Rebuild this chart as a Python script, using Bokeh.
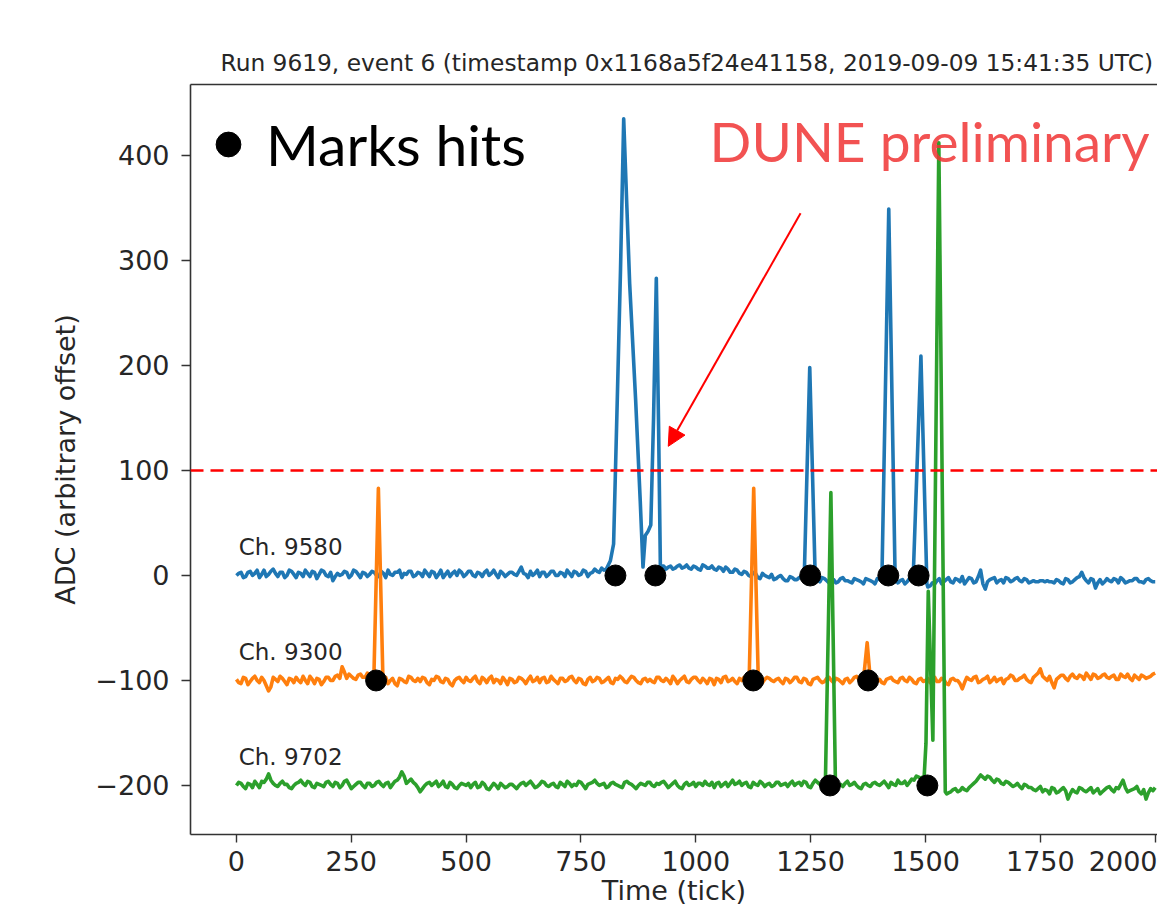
from bokeh.plotting import figure
from bokeh.models import (Range1d, FixedTicker, LinearAxis, Label, Arrow, NormalHead,
                          Legend, LegendItem, Span)
from bokeh.core.properties import value
from bokeh.embed import file_html
from bokeh.resources import INLINE

# ---------------- data ----------------
TITLE = "Run 9619, event 6 (timestamp 0x1168a5f24e41158, 2019-09-09 15:41:35 UTC)"
channel_names = ["Ch. 9580", "Ch. 9300", "Ch. 9702"]
channel_offsets = [0, -100, -200]
channel_colors = ["#1f77b4", "#ff7f0e", "#2ca02c"]
base_step = 10  # baseline samples at ticks 0,10,...,2000 and 5,15,...,1995

# ADC deviation from each channel's baseline, ticks 0,10,...,2000
blue_base = [0, 3, -1, 4, 2, -2, 5, 1, 6, -1,
             3, 0, 4, -2, 2, 5, -1, 3, 1, 4,
             -1, -5, 2, 1, 3, 0, 4, -2, 2, 1,
             3, -1, 2, 5, 0, 3, -2, 1, 4, 0,
             2, 5, -1, 3, 1, -2, 4, 2, 0, 3,
             1, 4, -1, 2, 3, 0, 5, -2, 2, 1,
             3, 0, 8, 1, 4, 2, -1, 3, 1, 4,
             0, 2, 5, -1, 3, 1, 4, 2, 6, 3,
             5, 7, 4, 9, 10, 8, 6, 9, 7, 8,
             6, 8, 7, 9, 8, 6, 9, 7, 10, 6,
             8, 5, 9, 7, 6, 8, 4, 6, 3, 5,
             1, 3, -1, 2, -3, 0, -2, -4, -1, -3,
             -5, -2, -4, -1, -3, -5, -3, -6, -3, -7,
             -4, -6, -2, -5, -7, -4, -6, -3, -5, -8,
             -4, -6, -3, -5, -7, -4, -6, -5, -3, -6,
             -8, -10, -8, -3, -6, -2, -7, -4, -1, -5,
             -3, -6, 5, -13, -4, -2, -5, -7, -3, -5,
             -2, -6, -4, -6, -6, -5, -6, -6, -7, -5,
             -8, -4, -6, -2, 3, -5, -3, -12, -4, -6,
             -5, -3, -7, -4, -6, -5, -3, -6, -4, -5,
             -6]
# ticks 5,15,...,1995
blue_mid = [2, -2, 3, 0, 5, 1, -1, 4, 2, 3,
            -2, 5, 1, 3, -1, 2, 4, -3, 5, 0,
            3, -1, 0, 4, -2, 5, 1, 3, -1, 4,
            0, 4, -2, 1, 3, 5, 2, 4, -1, 3,
            -1, 2, 4, -2, 5, 1, -1, 4, 5, -1,
            4, 0, 3, -1, 5, 2, 1, 4, -1, 3,
            1, 4, 2, -2, 0, 5, 3, -1, 4, 0,
            3, -1, 2, 4, 0, 5, -1, 3, 4, 7,
            6, 8, 7, 10, 9, 7, 8, 6, 9, 7,
            9, 7, 10, 6, 9, 7, 10, 8, 7, 9,
            6, 10, 7, 9, 5, 7, 8, 3, 6, 2,
            4, 0, 3, -2, 2, -1, 1, -3, 0, -5,
            -1, -4, -2, -5, -2, -6, -4, -2, -5, -4,
            -7, -3, -5, -6, -3, -5, -8, -4, -6, -3,
            -6, -3, -7, -4, -5, -8, -3, -5, -7, -4,
            -11, -7, -5, -8, -4, -6, -3, -6, -8, -2,
            -7, -1, -8, -6, -3, -7, -4, -2, -6, -3,
            -5, -3, -7, -5, -6, -5, -5, -6, -4, -7,
            -3, -7, -4, -1, -2, -7, -4, -7, -8, -3,
            -6, -4, -2, -7, -5, -3, -6, -7, -3, -6]
orange_base = [1, -3, 2, -1, 4, -2, 0, -10, 3, -1,
               2, -4, 1, 3, -2, 0, 4, -3, 1, -1,
               3, 0, 5, 13, 2, 4, 1, 6, 3, 5,
               2, 0, 1, -3, 2, -5, 1, -2, 3, -1,
               -1, 2, -4, 0, 3, -2, 1, -5, 2, 0,
               3, -1, 4, -3, 1, 2, -2, 0, 3, -4,
               1, -1, 2, -3, 4, 0, -2, 3, -1, 1,
               -3, 2, 0, 4, -2, 1, -4, 3, 0, 2,
               -1, 3, -3, 1, 2, -2, 4, 0, -3, 2,
               1, -2, 3, -1, 0, 4, -3, 2, -1, 1,
               3, -2, 0, 2, -4, 1, 3, -1, 2, -3,
               0, 2, -2, 4, -1, 1, 2, -1, 2, -3,
               1, 0, 3, -2, 1, -4, 2, 0, -1, 3,
               -2, 1, -3, 2, 0, 4, -1, 1, -2, 2,
               1, -3, 2, 0, -2, 3, -1, 1, -3, 2,
               0, -2, 3, -1, 1, -4, 2, 0, -8, 3,
               0, 4, -1, 2, -2, 3, 1, -3, 2, 4,
               0, 3, 1, -2, 5, 11, 2, 4, -7, 3,
               5, 0, 6, 2, 4, 7, 1, 5, 3, 6,
               2, 5, 1, 4, 6, 0, 3, 5, 2, 4,
               7]
orange_mid = [-2, 3, -4, 2, 0, 3, -5, -6, 1, 4,
              -1, 2, -2, 0, 4, -3, 1, 2, -4, 3,
              0, 4, 2, 8, 6, 2, 5, 3, 7, 0,
              1, -2, 3, 0, -3, 2, -1, 4, 0, 2,
              3, -2, 1, 4, -1, 2, -3, 0, 3, -2,
              0, 2, -1, 3, -2, 4, 1, -3, 0, 2,
              -2, 3, 0, 1, -1, 3, 2, -2, 4, -1,
              2, -1, 3, 0, 2, -3, 1, -1, 3, -2,
              1, -2, 2, 4, -1, 1, 3, -2, 1, -1,
              -1, 3, 0, 2, -3, 1, 0, 4, -2, 3,
              0, 2, -3, 1, 2, -2, 4, 0, -1, 2,
              3, -1, 2, 0, -2, 3, 0, 1, -1, 2,
              -2, 3, -1, 2, -3, 1, 3, -2, 2, 0,
              2, -1, 1, -2, 3, 1, -3, 2, 0, -1,
              -2, 1, 3, -1, 2, 0, 3, -2, 1, -1,
              2, 0, -1, 2, -3, 1, 0, -3, -2, 1,
              3, -2, 1, 4, 0, -1, 2, 1, 5, 0,
              2, 5, -1, 3, 7, 4, 0, -2, 1, 5,
              2, 4, 3, 5, 1, 4, 6, 2, 5, 3,
              4, 1, 6, 3, 2, 5, 1, 4, 3, 6]
green_base = [0, 2, -3, 1, 4, -2, 3, 11, 2, -1,
              4, 1, -3, 2, 5, 0, 3, -2, 1, -1,
              4, -1, 2, 0, 5, -3, 1, 3, -2, 2,
              0, 4, -1, 3, 1, 5, 13, 2, 6, 1,
              -6, 0, 3, 2, -1, 4, -2, 1, -3, 2,
              0, -2, 3, -1, 1, -4, 2, -3, 0, -1,
              1, -3, 2, 0, 4, -2, 1, 3, -1, 2,
              -2, 1, 4, -1, 0, 3, -3, 2, 5, 0,
              2, -1, 3, 0, -2, 4, 1, -3, 2, 0,
              3, -1, 1, 4, -2, 2, 0, -3, 3, 1,
              -1, 2, 4, 0, -2, 3, 1, -1, 5, 2,
              0, 3, -2, 1, 4, -1, 2, 0, 3, 1,
              -1, 4, 2, 0, 3, -2, 5, 1, 2, 6,
              2, 0, -1, 4, 1, 0, -3, 2, -1, 3,
              0, 4, -2, 1, 5, 2, 0, 6, 9, 7,
              8, 4, 6, -5, -8, -7, -4, -6, -2, -5,
              0, 4, 10, 6, 8, 3, 5, 1, 3, -1,
              2, -3, 0, -2, -5, -1, -4, -8, -3, -6,
              -2, -13, -4, -7, -3, -6, -2, -5, -8, -4,
              -1, -6, -3, 5, -6, -4, -1, -8, -13, -3,
              -2]
green_mid = [3, -1, 2, -2, 1, 4, 6, 5, 0, 2,
             1, -2, 0, 3, 2, 4, -1, 2, 0, 3,
             1, 3, -2, 4, 1, -1, 3, 0, 2, -1,
             3, 1, 2, -2, 4, 8, 9, 4, 3, -2,
             -3, 2, 0, 4, 1, -1, 3, -2, 0, 1,
             2, 1, -2, 3, -3, -1, 0, 2, -2, 1,
             -1, 0, 3, 2, 1, -1, 4, 0, 1, -1,
             3, -1, 2, 1, 4, 0, 1, 3, 2, 1,
             -2, 2, 1, -1, 3, 2, -1, 0, 1, 3,
             0, 2, 3, 1, 0, 4, -2, 1, 0, 3,
             2, 0, 1, 3, 2, -1, 3, 2, 1, 4,
             2, -1, 3, 0, 2, 1, -1, 3, 0, 2,
             2, 0, 3, 4, -1, 2, 3, -1, 4, 3,
             3, 1, 2, 0, 3, -2, 1, 0, 2, 1,
             2, 1, 3, 0, 2, 4, 3, 5, 8, 10,
             6, 7, 3, -3, -7, -6, -3, -5, -4, -2,
             2, 7, 8, 9, 5, 6, 2, 4, 1, 0,
             -1, 1, -2, -4, -3, -6, -5, -2, -7, -4,
             -5, -8, -6, -2, -5, -4, -7, -3, -6, -2,
             -4, -2, 1, -2, -5, -3, -6, -4, -7, -5]

# pulses: sample ticks and ADC deviation from the channel baseline
blue_pulse_t = [[800, 805, 814, 821, 829, 836, 843, 850, 856, 869, 879, 885, 890, 896, 902, 908, 914, 919, 923, 926],
                [1236, 1248, 1260],
                [1405, 1420, 1434],
                [1473, 1490, 1503]]
blue_pulse_dev = [[5, 6, 14, 30, 167, 290, 435, 350, 278, 167, 71, 8, 38, 42, 48, 150, 283, 140, 3, 9],
                  [-2, 198, -4],
                  [-5, 349, -6],
                  [-4, 209, -8]]
orange_pulse_t = [[296, 299, 309, 319, 322], [1113, 1116, 1126, 1136, 1139], [1362, 1365, 1373, 1380, 1383]]
orange_pulse_dev = [[2, 0, 183, -1, 2], [1, -1, 183, 0, 2], [-1, 1, 36, 0, -2]]
green_pulse_t = [[1279, 1282, 1294, 1304, 1307], [1494, 1497, 1501, 1506, 1516, 1529, 1543, 1546]]
green_pulse_dev = [[1, 2, 279, 0, -1], [8, 8, 40, 185, 43, 612, -6, -8]]

# hits found by the hit finder
hit_tick = [825, 912, 1249, 1419, 1485, 304, 1125, 1375, 1292, 1504]
hit_adc = [0, 0, 0, 0, 0, -100, -100, -100, -200, -200]

threshold = 100
x_ticks = [0, 250, 500, 750, 1000, 1250, 1500, 1750, 2000]
y_ticks = [-200, -100, 0, 100, 200, 300, 400]

# annotation anchors (data units)
label_pos = (5, 27)              # channel name: tick, ADC above baseline
prelim_pos = (1030, 414)
arrow_from = (1228, 345)
arrow_to = (940, 123)


def assemble(base, mid, pulse_t, pulse_dev, offset):
    samples = [(i * base_step, d) for i, d in enumerate(base)]
    samples += [(i * base_step + base_step // 2, d) for i, d in enumerate(mid)]
    pts = [(t, d) for t, d in samples
           if not any(pt[0] <= t <= pt[-1] for pt in pulse_t)]
    for pt, pd in zip(pulse_t, pulse_dev):
        pts.extend(zip(pt, pd))
    pts.sort()
    return [q[0] for q in pts], [offset + q[1] for q in pts]


traces = [assemble(blue_base, blue_mid, blue_pulse_t, blue_pulse_dev, channel_offsets[0]),
          assemble(orange_base, orange_mid, orange_pulse_t, orange_pulse_dev, channel_offsets[1]),
          assemble(green_base, green_mid, green_pulse_t, green_pulse_dev, channel_offsets[2])]

# ---------------- figure ----------------
p = figure(width=1157, height=909, output_backend="svg", toolbar_location=None,
           x_range=Range1d(-100, 2005), y_range=Range1d(-246.7, 467.6),
           min_border_left=190, min_border_right=0, min_border_top=84, min_border_bottom=75)
p.grid.visible = False
p.outline_line_color = None
p.background_fill_color = "white"
p.border_fill_color = "white"

TXT = "#262626"
AX = "#333333"
for ax in (p.xaxis[0], p.yaxis[0]):
    ax.axis_line_color = AX
    ax.axis_line_width = 1.6
    ax.major_tick_line_color = AX
    ax.major_tick_line_width = 1.4
    ax.major_tick_in = 0
    ax.minor_tick_line_color = None
    ax.major_label_text_font = "DejaVu Sans"
    ax.major_label_text_font_size = "27px"
    ax.major_label_text_color = TXT
    ax.axis_label_text_font = "DejaVu Sans"
    ax.axis_label_text_font_size = "27px"
    ax.axis_label_text_font_style = "normal"
    ax.axis_label_text_color = TXT

p.xaxis.ticker = FixedTicker(ticks=x_ticks)
p.yaxis.ticker = FixedTicker(ticks=y_ticks)
p.xaxis.major_tick_out = 8
p.yaxis.major_tick_out = 9
p.xaxis.major_label_standoff = 8
p.yaxis.major_label_standoff = 12
p.yaxis.major_label_overrides = {t: ("\u2212" + str(-t) if t < 0 else str(t)) for t in y_ticks}
p.yaxis.axis_label = "ADC (arbitrary offset)"
p.yaxis.axis_label_standoff = 11
p.xaxis.axis_label = "Time (tick)"
p.xaxis.axis_label_standoff = 1

# top spine
top = LinearAxis(ticker=FixedTicker(ticks=[]), axis_line_color=AX, axis_line_width=1.6,
                 major_tick_line_color=None, minor_tick_line_color=None,
                 major_label_text_font_size="0px")
p.add_layout(top, "above")

p.title.text = TITLE
p.title.align = "left"
p.title.offset = 30
p.title.text_font = "DejaVu Sans"
p.title.text_font_size = "23.3px"
p.title.text_font_style = "normal"
p.title.text_color = TXT
p.title.standoff = 18

# threshold
p.add_layout(Span(location=threshold, dimension="width", line_color="red",
                  line_width=2.5, line_dash="13 7"))

# traces
for (tx, ty), col in zip(traces, channel_colors):
    p.line(tx, ty, line_color=col, line_width=3.6, line_join="round")

# channel names
p.text(x=[label_pos[0]] * 3, y=[o + label_pos[1] for o in channel_offsets], text=channel_names,
       text_font=value("DejaVu Sans"), text_font_size="23px", text_color=TXT,
       text_baseline="middle", text_align="left")

# hits
hit_r = p.scatter(x=hit_tick, y=hit_adc, size=21, marker="circle",
                  fill_color="black", line_color="black")

legend = Legend(items=[LegendItem(label="Marks hits", renderers=[hit_r])],
                location=(7, 656), glyph_width=62, glyph_height=62, label_standoff=7,
                padding=0, margin=0, spacing=0, border_line_color=None,
                background_fill_alpha=0, label_text_font="Lato",
                label_text_font_size="57px", label_text_color="black")
p.add_layout(legend)

p.add_layout(Label(x=prelim_pos[0], y=prelim_pos[1], text="DUNE preliminary",
                   text_font="Lato", text_font_size="55px", text_color="#f03434",
                   text_alpha=0.85, text_baseline="middle"))

p.add_layout(Arrow(x_start=arrow_from[0], y_start=arrow_from[1], x_end=arrow_to[0], y_end=arrow_to[1],
                   line_color="red", line_width=2,
                   end=NormalHead(size=18, fill_color="red", line_color="red")))

open("out.html", "w").write(file_html(p, INLINE))
